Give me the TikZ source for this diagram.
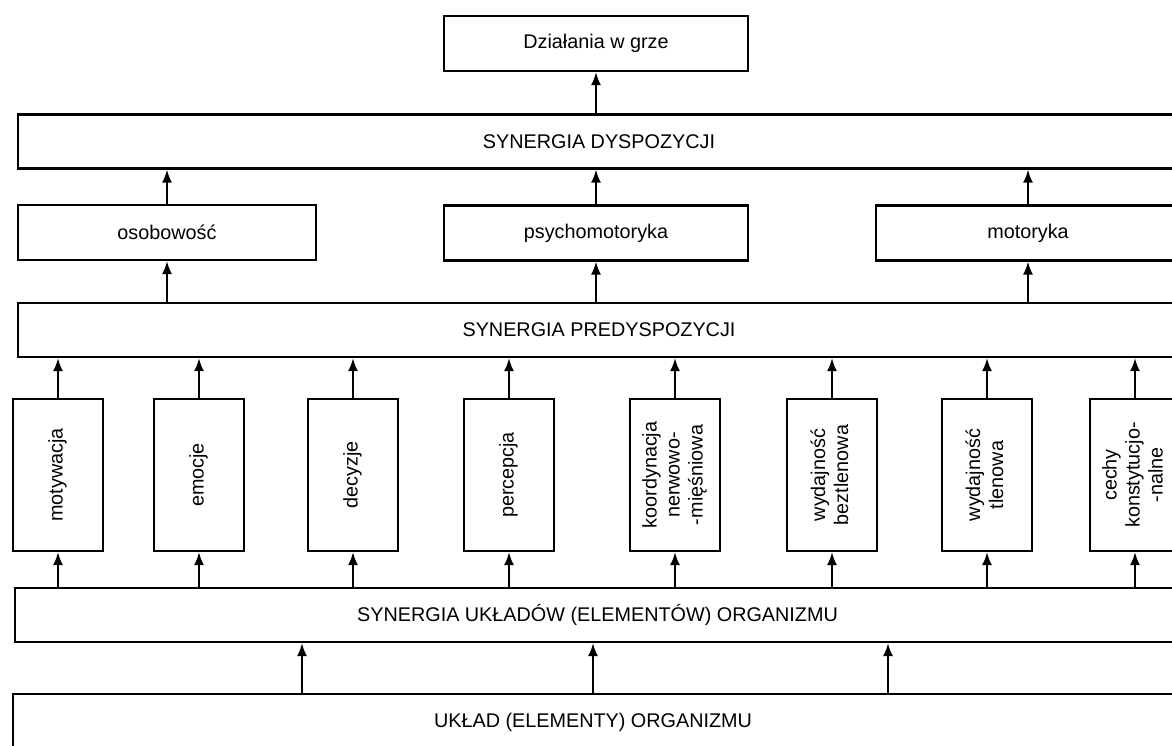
\documentclass[tikz,border=0pt]{standalone}
\usepackage{fontspec}
\setmainfont{Liberation Sans}
\usetikzlibrary{arrows.meta}

\newcommand{\vlabel}[1]{\rotatebox{90}{\begin{tabular}{@{}c@{}}#1\end{tabular}}}

\begin{document}
\begin{tikzpicture}[>={Latex[length=13pt,width=10pt]}, x=1pt, y=-1pt, line width=1.7pt,
    box/.style={draw, line width=2.4pt, inner sep=0pt, font=\fontsize{19.8}{23}\selectfont},
    wide/.style={box, minimum width=1165pt, minimum height=54pt},
    mid/.style={box, minimum width=304pt, minimum height=55pt},
    tall/.style={box, minimum width=90pt, minimum height=152pt}]
         \clip (0,0) rectangle (1172,746);
         % top
         \node[mid] (act) at (596,43.5) {Działania w grze};
         \node[wide, minimum width=1162pt] (dysp) at (599,141.5) {SYNERGIA DYSPOZYCJI};
         \node[mid, minimum width=298pt] (osob) at (167,232.5) {osobowość};
         \node[mid] (psych) at (596,233) {psychomotoryka};
         \node[mid] (motor) at (1028,233) {motoryka};
         \node[wide, minimum width=1162pt] (predysp) at (599,330) {SYNERGIA PREDYSPOZYCJI};
         % dyspozycje
         \node[tall] (motyw) at (58,475) {\vlabel{motywacja}};
         \node[tall] (emoc) at (199,475) {\vlabel{emocje}};
         \node[tall] (decyz) at (353,475) {\vlabel{decyzje}};
         \node[tall] (perc) at (509,475) {\vlabel{percepcja}};
         \node[tall] (koord) at (675,475) {\vlabel{koordynacja\\nerwowo-\\-mięśniowa}};
         \node[tall] (beztl) at (832,475) {\vlabel{wydajność\\beztlenowa}};
         \node[tall] (tlen) at (987,475) {\vlabel{wydajność\\tlenowa}};
         \node[tall] (cechy) at (1135,475) {\vlabel{cechy\\konstytucjo-\\-nalne}};
         % bottom
         \node[wide] (synukl) at (597.5,615) {SYNERGIA UKŁADÓW (ELEMENTÓW) ORGANIZMU};
         \node[wide, minimum width=1167pt, minimum height=60pt] (ukl) at (596.5,724) {};
         \node[font=\fontsize{19.8}{23}\selectfont] (ukltxt) at (593,722) {UKŁAD (ELEMENTY) ORGANIZMU};
         \coordinate (u1) at (302,694);
         \coordinate (u2) at (593,694);
         \coordinate (u3) at (888,694);

         \draw[->] (dysp.north -| act.south) -- (act.south);
         \foreach \n in {osob,psych,motor} {
           \draw[->] (\n.north) -- (dysp.south -| \n.north);
           \draw[->] (predysp.north -| \n.south) -- (\n.south);
         }
         \foreach \n in {motyw,emoc,decyz,perc,koord,beztl,tlen,cechy} {
           \draw[->] (\n.north) -- (predysp.south -| \n.north);
           \draw[->] (synukl.north -| \n.south) -- (\n.south);
         }
         \foreach \u in {u1,u2,u3}
           \draw[->] (\u) -- (synukl.south -| \u);
        \end{tikzpicture}
\end{document}
